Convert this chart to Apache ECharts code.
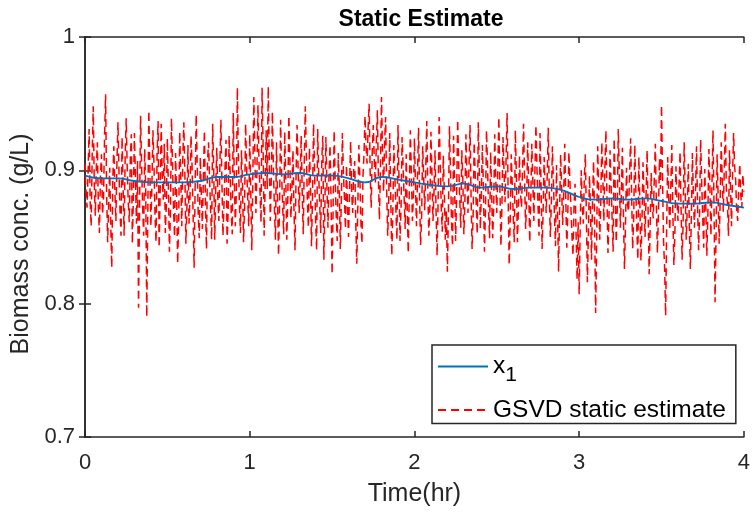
<!DOCTYPE html>
<html>
<head>
<meta charset="utf-8">
<script src="https://cdn.jsdelivr.net/npm/echarts@6/dist/echarts.min.js"></script>
<style>html,body{margin:0;padding:0;background:#fff;}#chart{width:753px;height:514px;}</style>
</head>
<body>
<div id="chart"></div>
<script>
// Time step of the sampled estimate (hr)
const estStep = 0.00625;
// GSVD static estimate (g/L)
const estValues = [
0.905,0.884,0.872,0.899,0.931,0.877,0.858,0.912,0.948,0.890,0.866,0.903,0.921,0.871,0.853,0.896,
0.912,0.867,0.880,0.925,0.957,0.883,0.846,0.874,0.902,0.859,0.827,0.893,0.918,0.886,0.862,0.905,
0.936,0.899,0.870,0.851,0.925,0.888,0.851,0.910,0.939,0.902,0.876,0.861,0.908,0.927,0.845,0.880,
0.928,0.894,0.860,0.907,0.797,0.872,0.941,0.903,0.872,0.851,0.916,0.885,0.790,0.868,0.945,0.901,
0.858,0.889,0.930,0.904,0.866,0.846,0.912,0.937,0.842,0.883,0.935,0.897,0.878,0.920,0.853,0.874,
0.924,0.887,0.839,0.868,0.939,0.905,0.871,0.850,0.913,0.881,0.830,0.862,0.929,0.896,0.858,0.909,
0.936,0.898,0.845,0.873,0.919,0.860,0.880,0.926,0.903,0.867,0.827,0.889,0.942,0.904,0.866,0.849,
0.910,0.882,0.856,0.895,0.930,0.873,0.841,0.907,0.921,0.893,0.871,0.848,0.935,0.901,0.848,0.887,
0.917,0.880,0.862,0.903,0.938,0.891,0.851,0.874,0.902,0.923,0.845,0.868,0.926,0.897,0.869,0.852,
0.943,0.896,0.858,0.884,0.962,0.910,0.874,0.853,0.915,0.889,0.846,0.872,0.935,0.902,0.880,0.858,
0.927,0.885,0.840,0.893,0.955,0.912,0.868,0.899,0.949,0.906,0.883,0.861,0.962,0.918,0.851,0.890,
0.930,0.886,0.963,0.907,0.862,0.895,0.944,0.901,0.871,0.848,0.921,0.880,0.836,0.874,0.938,0.896,
0.873,0.852,0.929,0.894,0.848,0.879,0.941,0.908,0.864,0.887,0.915,0.870,0.840,0.896,0.934,0.901,
0.868,0.893,0.926,0.883,0.852,0.907,0.948,0.912,0.877,0.857,0.917,0.889,0.843,0.881,0.935,0.899,
0.862,0.840,0.931,0.897,0.874,0.853,0.908,0.926,0.833,0.871,0.925,0.888,0.857,0.896,0.919,0.878,
0.822,0.871,0.930,0.893,0.866,0.847,0.913,0.887,0.841,0.879,0.928,0.898,0.879,0.856,0.904,0.872,
0.850,0.888,0.922,0.883,0.868,0.902,0.907,0.861,0.830,0.873,0.919,0.894,0.861,0.845,0.895,0.912,
0.941,0.917,0.905,0.932,0.950,0.898,0.872,0.913,0.934,0.908,0.890,0.921,0.945,0.894,0.863,0.902,
0.955,0.912,0.884,0.921,0.940,0.887,0.851,0.876,0.928,0.880,0.836,0.869,0.919,0.895,0.870,0.848,
0.934,0.893,0.847,0.872,0.925,0.903,0.879,0.856,0.912,0.871,0.838,0.884,0.930,0.898,0.862,0.880,
0.924,0.889,0.858,0.897,0.932,0.879,0.844,0.866,0.918,0.894,0.870,0.902,0.937,0.885,0.851,0.873,
0.929,0.897,0.862,0.884,0.915,0.869,0.836,0.877,0.940,0.906,0.873,0.854,0.911,0.886,0.848,0.870,
0.824,0.868,0.933,0.901,0.862,0.843,0.926,0.889,0.847,0.882,0.938,0.904,0.879,0.857,0.915,0.893,
0.852,0.876,0.927,0.894,0.868,0.903,0.934,0.880,0.841,0.866,0.921,0.897,0.874,0.852,0.936,0.901,
0.856,0.883,0.919,0.887,0.839,0.870,0.930,0.904,0.870,0.849,0.914,0.882,0.849,0.873,0.927,0.893,
0.868,0.901,0.940,0.887,0.843,0.874,0.925,0.899,0.876,0.908,0.943,0.884,0.829,0.861,0.912,0.889,
0.865,0.846,0.930,0.897,0.846,0.872,0.911,0.883,0.872,0.901,0.935,0.892,0.856,0.879,0.921,0.887,
0.846,0.878,0.920,0.893,0.862,0.899,0.934,0.902,0.875,0.851,0.928,0.888,0.841,0.869,0.910,0.884,
0.868,0.897,0.932,0.881,0.850,0.876,0.918,0.891,0.866,0.843,0.904,0.867,0.824,0.871,0.912,0.886,
0.859,0.883,0.920,0.878,0.842,0.869,0.914,0.892,0.872,0.851,0.836,0.874,0.890,0.852,0.818,0.861,
0.807,0.856,0.900,0.873,0.860,0.894,0.912,0.866,0.816,0.853,0.896,0.871,0.833,0.878,0.907,0.862,
0.793,0.847,0.918,0.881,0.848,0.876,0.921,0.894,0.862,0.903,0.930,0.880,0.838,0.867,0.915,0.889,
0.864,0.839,0.924,0.888,0.846,0.871,0.931,0.897,0.857,0.882,0.917,0.866,0.826,0.859,0.902,0.874,
0.869,0.898,0.924,0.879,0.841,0.866,0.919,0.887,0.856,0.833,0.910,0.873,0.832,0.861,0.906,0.881,
0.850,0.881,0.915,0.868,0.822,0.859,0.898,0.872,0.864,0.895,0.920,0.874,0.838,0.867,0.909,0.886,
0.949,0.893,0.846,0.827,0.791,0.858,0.910,0.879,0.855,0.887,0.919,0.868,0.829,0.854,0.903,0.877,
0.862,0.888,0.914,0.871,0.833,0.862,0.921,0.884,0.848,0.872,0.905,0.859,0.826,0.867,0.913,0.879,
0.857,0.885,0.918,0.873,0.840,0.869,0.923,0.891,0.866,0.842,0.901,0.874,0.836,0.866,0.916,0.888,
0.851,0.889,0.930,0.872,0.801,0.853,0.912,0.880,0.845,0.879,0.921,0.893,0.869,0.902,0.935,0.884,
0.876,0.851,0.915,0.889,0.858,0.896,0.928,0.903,0.893,0.870,0.862,0.887,0.905,0.881,0.872,0.897,
0.884
];
// True state x1 (g/L), sampled every 0.1 hr
const trueStep = 0.1;
const trueValues = [
0.896,0.894,0.894,0.892,0.891,0.891,0.891,0.892,0.895,0.895,
0.897,0.898,0.897,0.898,0.896,0.896,0.894,0.891,0.895,0.893,
0.891,0.889,0.888,0.890,0.887,0.888,0.886,0.887,0.887,0.885,
0.880,0.878,0.879,0.878,0.879,0.877,0.875,0.875,0.876,0.874,
0.872
];
const xTicks = [0, 1, 2, 3, 4];
const yTicks = [0.7, 0.8, 0.9, 1];
const titleText = 'Static Estimate';
const xName = 'Time(hr)';
const yName = 'Biomass conc. (g/L)';
const seriesNames = ['x1', 'GSVD static estimate'];

const estData = estValues.map((v, i) => [+(i * estStep).toFixed(5), v]);
const trueData = trueValues.map((v, i) => [+(i * trueStep).toFixed(4), v]);

const axisColor = '#262626';
const font = '"Liberation Sans", Arial, sans-serif';
const chart = echarts.init(document.getElementById('chart'), null, {renderer: 'canvas'});
const baseX = {
  type: 'value', min: xTicks[0], max: xTicks[xTicks.length - 1], interval: 1,
  axisLine: {show: true, lineStyle: {color: axisColor, width: 1.5}},
  axisTick: {show: true, inside: true, length: 6, lineStyle: {color: axisColor, width: 1.5}},
  splitLine: {show: false}
};
const baseY = {
  type: 'value', min: yTicks[0], max: yTicks[yTicks.length - 1], interval: 0.1,
  axisLine: {show: true, lineStyle: {color: axisColor, width: 1.5}},
  axisTick: {show: true, inside: true, length: 6, lineStyle: {color: axisColor, width: 1.5}},
  splitLine: {show: false}
};
chart.setOption({
  animation: false,
  backgroundColor: '#ffffff',
  title: {
    text: titleText, left: 416, top: 3, textAlign: 'center',
    textStyle: {fontFamily: font, fontSize: 23, fontWeight: 'bold', color: '#000'}
  },
  grid: {left: 85, right: 6, top: 37, bottom: 77},
  legend: {
    orient: 'vertical', left: 432, top: 345,
    backgroundColor: '#fff', borderColor: axisColor, borderWidth: 1.5,
    padding: [9, 10, 1, 5], itemGap: 12, itemWidth: 50, itemHeight: 14,
    textStyle: {fontFamily: font, fontSize: 24.5, color: '#000',
      rich: {sub: {fontFamily: font, fontSize: 21, color: '#000', verticalAlign: 'bottom', padding: [17, 0, 0, 0]}, n: {fontFamily: font, fontSize: 24.5, color: '#000'}}},
    formatter: function (name) { return name === 'x1' ? '{n|x}{sub|1}' : name; },
    data: [
      {name: 'x1', itemStyle: {opacity: 0, color: 'rgba(0,0,0,0)', borderWidth: 0}},
      {name: 'GSVD static estimate', itemStyle: {opacity: 0, color: 'rgba(0,0,0,0)', borderWidth: 0}}
    ]
  },
  xAxis: [
    Object.assign({}, baseX, {
      position: 'bottom',
      name: xName, nameLocation: 'middle', nameGap: 45,
      nameTextStyle: {fontFamily: font, fontSize: 25, color: axisColor},
      axisLabel: {fontFamily: font, fontSize: 22, color: axisColor, margin: 15}
    }),
    Object.assign({}, baseX, {position: 'top', axisLabel: {show: false}})
  ],
  yAxis: [
    Object.assign({}, baseY, {
      position: 'left',
      name: yName, nameLocation: 'middle', nameGap: 48,
      nameTextStyle: {fontFamily: font, fontSize: 25, color: axisColor, padding: [0, 14, 0, 0]},
      axisLabel: {fontFamily: font, fontSize: 22, color: axisColor, margin: 10,
        formatter: v => String(+v.toFixed(1))}
    }),
    Object.assign({}, baseY, {position: 'right', axisLabel: {show: false}})
  ],
  series: [
    {
      name: seriesNames[0], type: 'line', data: trueData, showSymbol: false, symbol: 'none',
      smooth: true, z: 3,
      lineStyle: {color: '#0072BD', width: 1.8}, itemStyle: {color: '#0072BD'}
    },
    {
      name: seriesNames[1], type: 'line', data: estData, showSymbol: false, symbol: 'none',
      z: 2,
      lineStyle: {color: '#FF0000', width: 1.5, type: [8, 5]}, itemStyle: {color: '#FF0000'}
    }
  ]
});
</script>
</body>
</html>
